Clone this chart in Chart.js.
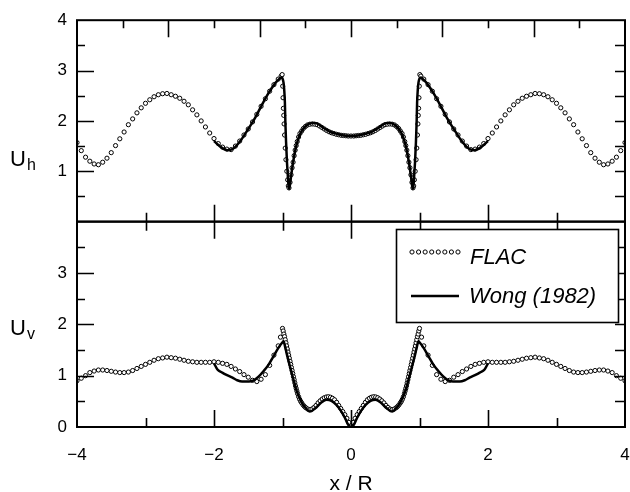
<!DOCTYPE html>
<html><head><meta charset="utf-8">
<script src="https://cdn.jsdelivr.net/npm/chart.js@4/dist/chart.umd.min.js"></script>
<style>html,body{margin:0;padding:0;background:#fff;}canvas{display:block;}</style>
</head><body>
<canvas id="c" width="630" height="492" style="width:630px;height:492px"></canvas>
<script>
const FONT = "'Liberation Sans', Arial, Helvetica, sans-serif";

// ---- data: [x/R, value] ----
const flacTop = [
[-4,1.57],[-3.9375,1.41],[-3.875,1.28],[-3.8125,1.20],[-3.75,1.145],[-3.6875,1.13],[-3.625,1.18],[-3.5625,1.26],
[-3.5,1.37],[-3.4375,1.51],[-3.375,1.645],[-3.3125,1.78],[-3.25,1.925],[-3.1875,2.04],[-3.125,2.16],[-3.0625,2.26],
[-3,2.35],[-2.9375,2.42],[-2.875,2.48],[-2.8125,2.52],[-2.75,2.54],[-2.6875,2.545],[-2.625,2.52],[-2.5625,2.49],
[-2.5,2.45],[-2.4375,2.39],[-2.375,2.32],[-2.3125,2.22],[-2.25,2.12],[-2.1875,2.00],[-2.125,1.88],[-2.0625,1.76],
[-2,1.65],[-1.9375,1.55],[-1.875,1.48],[-1.8125,1.44],[-1.75,1.43],[-1.6875,1.50],[-1.625,1.60],[-1.5625,1.72],
[-1.5,1.84],[-1.4375,1.98],[-1.375,2.13],[-1.3125,2.29],[-1.25,2.44],[-1.1875,2.59],[-1.125,2.72],[-1.0625,2.83],
[-1.02,2.89],[-1.005,2.92],[-0.997,2.69],[-0.992,2.46],[-0.987,2.25],[-0.982,2.11],[-0.977,1.94],[-0.97,1.72],
[-0.96,1.46],[-0.95,1.23],[-0.937,1.00],[-0.925,0.83],[-0.915,0.71],[-0.905,0.67],
[-0.89,0.78],[-0.875,0.93],[-0.86,1.07],[-0.845,1.18],[-0.83,1.31],[-0.815,1.42],[-0.8,1.51],[-0.785,1.59],
[-0.765,1.68],[-0.745,1.75],[-0.72,1.80],[-0.695,1.85],[-0.665,1.89],[-0.635,1.92],[-0.6,1.935],[-0.565,1.94],
[-0.53,1.935],[-0.495,1.925],[-0.46,1.90],[-0.425,1.87],[-0.39,1.84],[-0.355,1.81],[-0.32,1.785],[-0.285,1.765],
[-0.25,1.75],[-0.215,1.735],[-0.18,1.725],[-0.145,1.715],[-0.11,1.71],[-0.075,1.705],[-0.04,1.70],[0,1.70],
[0.04,1.70],[0.075,1.705],[0.11,1.71],[0.145,1.715],[0.18,1.725],[0.215,1.735],[0.25,1.75],[0.285,1.765],
[0.32,1.785],[0.355,1.81],[0.39,1.84],[0.425,1.87],[0.46,1.90],[0.495,1.925],[0.53,1.935],[0.565,1.94],
[0.6,1.935],[0.635,1.92],[0.665,1.89],[0.695,1.85],[0.72,1.80],[0.745,1.75],[0.765,1.68],[0.785,1.59],
[0.8,1.51],[0.815,1.42],[0.83,1.31],[0.845,1.18],[0.86,1.07],[0.875,0.93],[0.89,0.78],
[0.905,0.67],[0.915,0.71],[0.925,0.83],[0.937,1.00],[0.95,1.23],[0.96,1.46],[0.97,1.72],[0.977,1.94],
[0.982,2.11],[0.987,2.25],[0.992,2.46],[0.997,2.69],[1.005,2.92],[1.02,2.89],
[1.0625,2.83],[1.125,2.72],[1.1875,2.59],[1.25,2.44],[1.3125,2.29],[1.375,2.13],[1.4375,1.98],[1.5,1.84],
[1.5625,1.72],[1.625,1.60],[1.6875,1.50],[1.75,1.43],[1.8125,1.44],[1.875,1.48],[1.9375,1.55],[2,1.65],
[2.0625,1.76],[2.125,1.88],[2.1875,2.00],[2.25,2.12],[2.3125,2.22],[2.375,2.32],[2.4375,2.39],[2.5,2.45],
[2.5625,2.49],[2.625,2.52],[2.6875,2.545],[2.75,2.54],[2.8125,2.52],[2.875,2.48],[2.9375,2.42],[3,2.35],
[3.0625,2.26],[3.125,2.16],[3.1875,2.04],[3.25,1.925],[3.3125,1.78],[3.375,1.645],[3.4375,1.51],[3.5,1.37],
[3.5625,1.26],[3.625,1.18],[3.6875,1.13],[3.75,1.145],[3.8125,1.20],[3.875,1.28],[3.9375,1.41],[4,1.57]
];

const wongTop = [
[-2,1.60],[-1.9,1.48],[-1.8,1.42],[-1.75,1.43],[-1.7,1.47],[-1.6,1.63],[-1.5,1.84],[-1.4,2.06],[-1.3,2.32],
[-1.2,2.56],[-1.1,2.76],[-1.05,2.83],[-1.02,2.86],[-1.0,2.84],[-0.985,2.76],[-0.975,2.62],[-0.965,2.36],
[-0.958,1.97],[-0.948,1.58],[-0.935,1.19],[-0.923,0.93],[-0.913,0.73],[-0.903,0.65],[-0.89,0.74],[-0.87,0.95],
[-0.85,1.14],[-0.83,1.30],[-0.81,1.44],[-0.78,1.60],[-0.75,1.72],[-0.7,1.84],[-0.65,1.91],[-0.6,1.95],
[-0.55,1.96],[-0.5,1.95],[-0.45,1.91],[-0.4,1.86],[-0.35,1.82],[-0.3,1.78],[-0.2,1.74],[-0.1,1.71],[0,1.70],
[0.1,1.71],[0.2,1.74],[0.3,1.78],[0.35,1.82],[0.4,1.86],[0.45,1.91],[0.5,1.95],[0.55,1.96],[0.6,1.95],
[0.65,1.91],[0.7,1.84],[0.75,1.72],[0.78,1.60],[0.81,1.44],[0.83,1.30],[0.85,1.14],[0.87,0.95],[0.89,0.74],
[0.903,0.65],[0.913,0.73],[0.923,0.93],[0.935,1.19],[0.948,1.58],[0.958,1.97],[0.965,2.36],[0.975,2.62],
[0.985,2.76],[1.0,2.84],[1.02,2.86],[1.05,2.83],[1.1,2.76],[1.2,2.56],[1.3,2.32],[1.4,2.06],[1.5,1.84],
[1.6,1.63],[1.7,1.47],[1.75,1.43],[1.8,1.42],[1.9,1.48],[2,1.60]
];

const flacBot = [
[-4,0.90],[-3.9375,0.95],[-3.875,1.00],[-3.8125,1.06],[-3.75,1.09],[-3.6875,1.11],[-3.625,1.11],[-3.5625,1.10],
[-3.5,1.085],[-3.4375,1.07],[-3.375,1.06],[-3.3125,1.06],[-3.25,1.07],[-3.1875,1.10],[-3.125,1.14],[-3.0625,1.18],
[-3,1.22],[-2.9375,1.26],[-2.875,1.30],[-2.8125,1.33],[-2.75,1.345],[-2.6875,1.36],[-2.625,1.35],[-2.5625,1.34],
[-2.5,1.32],[-2.4375,1.30],[-2.375,1.28],[-2.3125,1.27],[-2.25,1.26],[-2.1875,1.26],[-2.125,1.26],[-2.0625,1.26],
[-2,1.27],[-1.9375,1.26],[-1.875,1.24],[-1.8125,1.22],[-1.75,1.18],[-1.6875,1.13],[-1.625,1.08],[-1.5625,1.02],
[-1.5,0.97],[-1.4375,0.91],[-1.375,0.885],[-1.3125,0.93],[-1.25,1.02],[-1.1875,1.20],[-1.125,1.40],[-1.0625,1.58],
[-1.03,1.75],[-1.0,1.92],[-0.99,1.87],[-0.98,1.81],[-0.97,1.76],[-0.96,1.70],[-0.95,1.64],[-0.94,1.58],
[-0.93,1.52],[-0.92,1.46],[-0.91,1.40],[-0.9,1.34],[-0.89,1.28],[-0.88,1.22],[-0.87,1.16],[-0.86,1.10],
[-0.85,1.04],[-0.84,0.98],[-0.83,0.92],[-0.82,0.86],[-0.81,0.80],[-0.8,0.75],[-0.79,0.70],[-0.78,0.65],
[-0.765,0.59],[-0.75,0.54],[-0.735,0.50],[-0.72,0.47],[-0.7,0.43],[-0.68,0.40],[-0.66,0.375],[-0.63,0.35],
[-0.6,0.34],[-0.57,0.35],[-0.54,0.38],[-0.51,0.42],[-0.48,0.47],[-0.45,0.51],[-0.42,0.545],[-0.39,0.57],
[-0.36,0.585],[-0.33,0.59],[-0.3,0.58],[-0.27,0.56],[-0.24,0.53],[-0.21,0.48],[-0.18,0.42],[-0.15,0.36],
[-0.12,0.30],[-0.09,0.24],[-0.06,0.17],[-0.03,0.09],[0,0.02],
[0.03,0.09],[0.06,0.17],[0.09,0.24],[0.12,0.30],[0.15,0.36],[0.18,0.42],[0.21,0.48],[0.24,0.53],
[0.27,0.56],[0.3,0.58],[0.33,0.59],[0.36,0.585],[0.39,0.57],[0.42,0.545],[0.45,0.51],[0.48,0.47],
[0.51,0.42],[0.54,0.38],[0.57,0.35],[0.6,0.34],[0.63,0.35],[0.66,0.375],[0.68,0.40],[0.7,0.43],
[0.72,0.47],[0.735,0.50],[0.75,0.54],[0.765,0.59],[0.78,0.65],[0.79,0.70],[0.8,0.75],[0.81,0.80],
[0.82,0.86],[0.83,0.92],[0.84,0.98],[0.85,1.04],[0.86,1.10],[0.87,1.16],[0.88,1.22],[0.89,1.28],
[0.9,1.34],[0.91,1.40],[0.92,1.46],[0.93,1.52],[0.94,1.58],[0.95,1.64],[0.96,1.70],[0.97,1.76],
[0.98,1.81],[0.99,1.87],[1.0,1.92],[1.03,1.75],
[1.0625,1.58],[1.125,1.40],[1.1875,1.20],[1.25,1.02],[1.3125,0.93],[1.375,0.885],[1.4375,0.91],[1.5,0.97],
[1.5625,1.02],[1.625,1.08],[1.6875,1.13],[1.75,1.18],[1.8125,1.22],[1.875,1.24],[1.9375,1.26],[2,1.27],
[2.0625,1.26],[2.125,1.26],[2.1875,1.26],[2.25,1.26],[2.3125,1.27],[2.375,1.28],[2.4375,1.30],[2.5,1.32],
[2.5625,1.34],[2.625,1.35],[2.6875,1.36],[2.75,1.345],[2.8125,1.33],[2.875,1.30],[2.9375,1.26],[3,1.22],
[3.0625,1.18],[3.125,1.14],[3.1875,1.10],[3.25,1.07],[3.3125,1.06],[3.375,1.06],[3.4375,1.07],[3.5,1.085],
[3.5625,1.10],[3.625,1.11],[3.6875,1.11],[3.75,1.09],[3.8125,1.06],[3.875,1.00],[3.9375,0.95],[4,0.90]
];

const wongBot = [
[-2,1.24],[-1.95,1.12],[-1.88,1.06],[-1.81,1.01],[-1.73,0.96],[-1.66,0.91],[-1.59,0.885],[-1.49,0.885],
[-1.42,0.91],[-1.35,0.98],[-1.275,1.09],[-1.2,1.22],[-1.13,1.38],[-1.06,1.54],[-1.0,1.65],[-0.985,1.67],
[-0.96,1.55],[-0.937,1.42],[-0.889,1.17],[-0.841,0.93],[-0.792,0.70],[-0.729,0.50],[-0.662,0.37],[-0.6,0.30],
[-0.526,0.36],[-0.43,0.48],[-0.357,0.53],[-0.285,0.51],[-0.213,0.43],[-0.14,0.30],[-0.082,0.16],[-0.043,0.05],[0,0],
[0.043,0.05],[0.082,0.16],[0.14,0.30],[0.213,0.43],[0.285,0.51],[0.357,0.53],[0.43,0.48],[0.526,0.36],
[0.6,0.30],[0.662,0.37],[0.729,0.50],[0.792,0.70],[0.841,0.93],[0.889,1.17],[0.937,1.42],[0.96,1.55],
[0.985,1.67],[1.0,1.65],[1.06,1.54],[1.13,1.38],[1.2,1.22],[1.275,1.09],[1.35,0.98],[1.42,0.91],
[1.49,0.885],[1.59,0.885],[1.66,0.91],[1.73,0.96],[1.81,1.01],[1.88,1.06],[1.95,1.12],[2,1.24]
];

// ---- ticks / labels ----
const xTickValues = [-4, -2, 0, 2, 4];
const xTickLabels = ['\u22124', '\u22122', '0', '2', '4'];
const xMinorTicks = [-3, -2, -1, 0, 1, 2, 3];
const yTickValues = [0, 1, 2, 3, 4];
const yTopTickLabels = ['', '1', '2', '3', '4'];
const yBotTickLabels = ['0', '1', '2', '3', ''];
const ySideTicks = [0.5, 1, 1.5, 2, 2.5, 3, 3.5];
const topEdgeTicks = [-5, -4, -3, -2, -1, 0, 1, 2, 3, 4, 5]; // in steps of 2/3
const seriesNames = ['FLAC', 'Wong (1982)'];

const pts = a => a.map(([x, y]) => ({x, y}));

const drawPlugin = {
  id: 'drawPlugin',
  afterDatasetsDraw(chart) {
    const ctx = chart.ctx;
    const xs = chart.scales.x, yt = chart.scales.yTop, yb = chart.scales.yBot;
    const L = xs.left, R = xs.right;
    ctx.save();
    ctx.strokeStyle = '#000';
    ctx.lineWidth = 2;
    ctx.strokeRect(L, yt.top, R - L, yt.bottom - yt.top);
    ctx.strokeRect(L, yb.top, R - L, yb.bottom - yb.top);
    ctx.lineWidth = 1.6;
    ctx.beginPath();
    const seg = (a, b, c, d) => { ctx.moveTo(a, b); ctx.lineTo(c, d); };
    for (const s of [yt, yb]) {
      for (const v of ySideTicks) {
        const p = Math.round(s.getPixelForValue(v)) + 0.5;
        const major = Number.isInteger(v);
        seg(L, p, L + (major ? 17 : 8), p);
        seg(R, p, R - 10, p);
      }
    }
    for (const v of xMinorTicks) {
      const p = Math.round(xs.getPixelForValue(v)) + 0.5;
      const len = (v % 2 === 0) ? 17 : 9;
      seg(p, yb.bottom, p, yb.bottom - len);
      seg(p, yb.top, p, yb.top + len);
      seg(p, yt.bottom, p, yt.bottom - len);
    }
    for (const k of topEdgeTicks) {
      const p = Math.round(xs.getPixelForValue(k * 2 / 3)) + 0.5;
      const len = (k % 2 === 0) ? 17 : 8;
      seg(p, yt.top, p, yt.top + len);
    }
    ctx.stroke();

    // axis titles with subscripts
    ctx.fillStyle = '#000';
    ctx.textBaseline = 'alphabetic';
    ctx.textAlign = 'left';
    const title = (main, sub, x, y) => {
      ctx.font = '22px ' + FONT;
      ctx.fillText(main, x, y);
      const w = ctx.measureText(main).width;
      ctx.font = '16px ' + FONT;
      ctx.fillText(sub, x + w + 1, y + 4);
    };
    title('U', 'h', 10, yt.getPixelForValue(1.1));
    title('U', 'v', 10, yb.getPixelForValue(1.8));

    // legend
    const bx = 396, by = 229, bw = 222, bh = 93;
    ctx.fillStyle = '#fff';
    ctx.fillRect(bx, by, bw, bh);
    ctx.lineWidth = 1.6;
    ctx.strokeRect(bx + 0.5, by + 0.5, bw, bh);
    ctx.lineWidth = 1;
    for (let i = 0; i < 8; i++) {
      ctx.beginPath();
      ctx.arc(412 + i * 6.57, 252, 2.1, 0, Math.PI * 2);
      ctx.fillStyle = '#fff';
      ctx.fill();
      ctx.stroke();
    }
    ctx.lineWidth = 2.5;
    ctx.beginPath();
    ctx.moveTo(411, 296); ctx.lineTo(459, 296);
    ctx.stroke();
    ctx.fillStyle = '#000';
    ctx.font = 'italic 22px ' + FONT;
    ctx.fillText(seriesNames[0], 470, 264);
    ctx.fillText(seriesNames[1], 469, 303);
    ctx.restore();
  }
};

const tickFont = {family: FONT, size: 17};

new Chart(document.getElementById('c'), {
  type: 'scatter',
  data: {
    datasets: [
      {label: seriesNames[0], data: pts(flacTop), yAxisID: 'yTop', showLine: false,
       pointRadius: 2.1, pointBorderWidth: 1, pointBorderColor: '#000', pointBackgroundColor: '#fff', order: 1},
      {label: seriesNames[1], data: pts(wongTop), yAxisID: 'yTop', showLine: true, borderColor: '#000',
       borderWidth: 2.5, pointRadius: 0, cubicInterpolationMode: 'monotone', order: 0},
      {label: seriesNames[0], data: pts(flacBot), yAxisID: 'yBot', showLine: false,
       pointRadius: 2.1, pointBorderWidth: 1, pointBorderColor: '#000', pointBackgroundColor: '#fff', order: 1},
      {label: seriesNames[1], data: pts(wongBot), yAxisID: 'yBot', showLine: true, borderColor: '#000',
       borderWidth: 2.5, pointRadius: 0, cubicInterpolationMode: 'monotone', order: 0}
    ]
  },
  options: {
    responsive: false,
    animation: false,
    layout: {padding: {top: 13, right: 1, left: 0, bottom: 0}},
    plugins: {legend: {display: false}, tooltip: {enabled: false}},
    scales: {
      x: {
        type: 'linear', position: 'bottom', min: -4, max: 4,
        afterBuildTicks: s => { s.ticks = xTickValues.map(v => ({value: v})); },
        ticks: {autoSkip: false, maxRotation: 0, color: '#000', font: tickFont, padding: 18,
                callback: v => xTickLabels[xTickValues.indexOf(v)]},
        grid: {display: false, drawTicks: false},
        border: {display: false},
        title: {display: true, text: 'x / R', color: '#000', font: {family: FONT, size: 21, lineHeight: 1},
                padding: {top: 0, bottom: -3}},
        afterFit: s => { s.height = 65; s.paddingLeft = 0; s.paddingRight = 0; }
      },
      yBot: {
        type: 'linear', position: 'left', stack: 'panels', stackWeight: 209, min: 0, max: 4,
        afterBuildTicks: s => { s.ticks = yTickValues.map(v => ({value: v})); },
        ticks: {autoSkip: false, color: '#000', font: tickFont, padding: 10,
                callback: v => yBotTickLabels[yTickValues.indexOf(v)]},
        grid: {display: false, drawTicks: false},
        border: {display: false},
        afterFit: s => { s.width = 77; }
      },
      yTop: {
        type: 'linear', position: 'left', stack: 'panels', stackWeight: 205, min: 0, max: 4,
        afterBuildTicks: s => { s.ticks = yTickValues.map(v => ({value: v})); },
        ticks: {autoSkip: false, color: '#000', font: tickFont, padding: 10,
                callback: v => yTopTickLabels[yTickValues.indexOf(v)]},
        grid: {display: false, drawTicks: false},
        border: {display: false},
        afterFit: s => { s.width = 77; }
      }
    }
  },
  plugins: [drawPlugin]
});
</script>
</body></html>
